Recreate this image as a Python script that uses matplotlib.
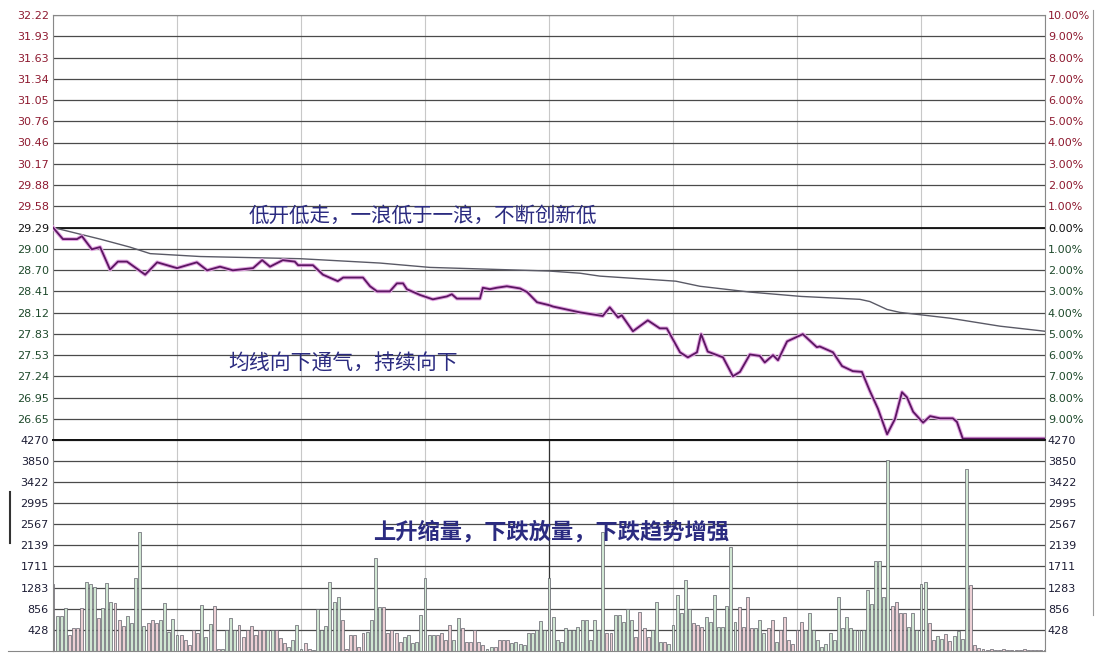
import matplotlib
matplotlib.use('Agg')
import matplotlib.pyplot as plt
import numpy as np
from matplotlib.lines import Line2D

plt.rcParams['font.family'] = ['Noto Sans CJK SC', 'DejaVu Sans']

# ---------------- data ----------------
prev_close = 29.29

price_t = [0, 2.4, 5.8, 7.0, 9.4, 11.4, 13.8, 15.7, 17.9, 22.3,
           25.2, 30.0, 34.8, 37.3, 40.4, 43.5, 48.4, 50.6, 52.5, 55.6,
           58.5, 59.3, 62.9, 65.3, 68.9, 70.2, 75.0, 76.7, 78.4, 81.5,
           83.2, 84.7, 85.6, 88.8, 91.9, 95.3, 96.5, 97.7, 103.3, 104.0,
           105.7, 107.4, 109.8, 113.0, 114.7, 117.1, 120.0, 121.0, 127.5, 133.0,
           134.7, 136.7, 137.6, 140.3, 143.9, 146.8, 148.5, 151.7, 153.6, 155.8,
           156.8, 158.4, 162.1, 164.5, 166.2, 168.6, 171.0, 172.2, 174.2, 175.4,
           177.6, 181.4, 184.8, 185.5, 188.7, 190.9, 193.5, 195.7, 197.6, 199.6,
           201.8, 203.7, 205.4, 206.6, 208.1, 210.5, 212.2, 214.6, 217.7, 218.7,
           220.1, 240]
price_v = [29.29, 29.13, 29.13, 29.17, 28.99, 29.02, 28.71, 28.82, 28.82, 28.64,
           28.81, 28.73, 28.81, 28.70, 28.75, 28.70, 28.73, 28.84, 28.75, 28.84,
           28.82, 28.77, 28.77, 28.64, 28.55, 28.60, 28.60, 28.48, 28.41, 28.41,
           28.52, 28.52, 28.44, 28.36, 28.30, 28.34, 28.37, 28.31, 28.31, 28.46,
           28.44, 28.46, 28.48, 28.45, 28.40, 28.26, 28.22, 28.20, 28.12, 28.07,
           28.19, 28.05, 28.08, 27.86, 28.01, 27.90, 27.90, 27.57, 27.50, 27.57,
           27.82, 27.58, 27.50, 27.24, 27.30, 27.54, 27.52, 27.43, 27.53, 27.46,
           27.72, 27.82, 27.64, 27.65, 27.57, 27.38, 27.31, 27.30, 27.04, 26.79,
           26.44, 26.65, 27.02, 26.95, 26.75, 26.60, 26.69, 26.66, 26.66, 26.61,
           26.38, 26.38]

avg_t = [0, 11.4, 18.6, 23.5, 35.6, 59.8, 79.1, 91.2, 120, 127.5,
         132.3, 150.7, 156.5, 168.6, 181, 195.2, 197.6, 201.8, 204.9, 217,
         229.1, 240]
avg_v = [29.29, 29.13, 29.02, 28.93, 28.89, 28.86, 28.80, 28.74, 28.69, 28.66,
         28.62, 28.55, 28.48, 28.40, 28.34, 28.30, 28.27, 28.16, 28.12, 28.04,
         27.93, 27.86]

volume = [
    1350, 700, 700, 870, 330, 460, 460, 870, 1390, 1350,
    1290, 670, 870, 1380, 990, 970, 630, 500, 700, 560,
    1480, 2410, 500, 560, 630, 560, 630, 970, 390, 650,
    330, 330, 220, 120, 430, 360, 940, 290, 550, 920,
    50, 50, 430, 670, 430, 530, 290, 430, 500, 330,
    430, 430, 430, 430, 430, 260, 160, 90, 220, 530,
    50, 160, 50, 20, 850, 430, 500, 1390, 990, 1090,
    630, 50, 330, 330, 90, 360, 390, 630, 1890,
    890, 890, 360, 430, 360, 190, 290, 330, 160, 190,
    730, 1480, 330, 330, 330, 360, 220, 530, 220, 670,
    460, 190, 190, 430, 190, 120, 50, 90, 90, 220,
    220, 220, 160, 190, 140, 120, 360, 360, 430, 600,
    430, 1480,
    690, 220, 190, 460, 420, 435, 490, 620, 620, 220,
    620, 420, 2400, 355, 355, 720, 720, 590, 840, 620,
    290, 790, 460, 290, 420, 990, 190, 190, 150, 520,
    1130, 760, 1440, 860, 560, 520, 490, 690, 590, 1130,
    490, 490, 920, 2100, 590, 890, 490, 1090, 460, 460,
    620, 355, 460, 620, 190, 420, 690, 220, 150, 420,
    590, 420, 760, 420, 220, 90, 150, 355, 220, 1090,
    460, 690, 460, 420, 420, 420, 1230, 960, 1830, 1830,
    1090, 3870, 920, 990, 760, 760, 490, 760, 420, 1360,
    1390, 560, 220,
    300, 250, 350, 200, 300, 400, 250,
    3680, 1330,
    120, 60, 40, 30, 50, 30, 20, 40, 30, 20, 30, 20, 40, 20, 30, 20, 30, 20]

pct_steps = list(range(-9, 11))
left_price_labels = ['26.65', '26.95', '27.24', '27.53', '27.83', '28.12', '28.41',
                     '28.70', '29.00', '29.29', '29.58', '29.88', '30.17', '30.46',
                     '30.76', '31.05', '31.34', '31.63', '31.93', '32.22']
right_pct_labels = ['9.00%', '8.00%', '7.00%', '6.00%', '5.00%', '4.00%', '3.00%',
                    '2.00%', '1.00%', '0.00%', '1.00%', '2.00%', '3.00%', '4.00%',
                    '5.00%', '6.00%', '7.00%', '8.00%', '9.00%', '10.00%']
vol_ticks = [428, 856, 1283, 1711, 2139, 2567, 2995, 3422, 3850, 4270]
vol_labels = ['428', '856', '1283', '1711', '2139', '2567', '2995', '3422', '3850', '4270']

note_top = '低开低走，一浪低于一浪，不断创新低'
note_mid = '均线向下通气，持续向下'
note_vol = '上升缩量，下跌放量，下跌趋势增强'

# ---------------- figure ----------------
W, H = 1100, 666
fig = plt.figure(figsize=(W / 100, H / 100), dpi=100)
fig.patch.set_facecolor('white')
axp = fig.add_axes([53 / W, 226 / H, 992 / W, 425 / H])
axv = fig.add_axes([53 / W, 15 / H, 992 / W, 211 / H], sharex=axp)

grid_c = '#4a4a4a'
up_c = '#8e1a30'
dn_c = '#1f4a2c'
txt_c = '#2b2b80'
lab_fs = 8


def style_labels(ax, colors):
    for c, lab in zip(colors, ax.get_yticklabels()):
        lab.set_color(c)
        lab.set_fontfamily('DejaVu Sans')
        lab.set_fontsize(lab_fs)


price_ticks = [prev_close * (1 + k / 100) for k in pct_steps]
price_colors = [up_c if k > 0 else (dn_c if k < 0 else '#111111') for k in pct_steps]
vol_colors = ['#1c1c34'] * len(vol_ticks)
lo, hi = prev_close * 0.9, prev_close * 1.1

for ax in (axp, axv):
    ax.set_xlim(0, 240)
    ax.set_xticks(range(0, 241, 30))
    ax.tick_params(axis='x', length=0, labelbottom=False)
    ax.xaxis.grid(True, color='#c8c8c8', lw=0.8)
    ax.yaxis.grid(True, color=grid_c, lw=0.9)
    ax.set_axisbelow(True)
    ax.tick_params(axis='y', length=0, pad=3)
    for s in ax.spines.values():
        s.set_color('#888888')
        s.set_linewidth(0.8)

# price panel
axp.set_ylim(lo, hi)
axp.set_yticks(price_ticks)
axp.set_yticklabels(left_price_labels)
style_labels(axp, price_colors)
axp.axhline(prev_close, color='#111111', lw=1.3, zorder=1)
axp.spines['bottom'].set_color('#111111')
axp.spines['bottom'].set_linewidth(1.3)

axp.plot(avg_t, avg_v, color='#5a5a66', lw=1.0, zorder=3)
axp.plot(price_t, price_v, color='#e3a8e3', lw=2.8, zorder=3, solid_joinstyle='round')
axp.plot(price_t, price_v, color='#5c1662', lw=1.3, zorder=4, solid_joinstyle='round')

axp2 = axp.twinx()
axp2.set_ylim(lo, hi)
axp2.set_yticks(price_ticks)
axp2.set_yticklabels(right_pct_labels)
axp2.tick_params(axis='y', length=0, pad=2)
style_labels(axp2, price_colors)
for s in axp2.spines.values():
    s.set_visible(False)

axp.text(47.2, 29.455, note_top, fontsize=14.8, color=txt_c, va='center', ha='left')
axp.text(42.3, 27.41, note_mid, fontsize=15, color=txt_c, va='center', ha='left')

# volume panel
minutes = np.arange(len(volume))
p_min = np.interp(minutes, price_t, price_v)
dirs = np.diff(p_min, prepend=p_min[0])
fills = ['#ecd0d5' if d >= 0 else '#d0e6d2' for d in dirs]
axv.bar(minutes, volume, width=0.7, color=fills, edgecolor='#60606a',
        linewidth=0.5, zorder=2)
axv.set_ylim(0, 4270)
axv.set_yticks(vol_ticks)
axv.set_yticklabels(vol_labels)
style_labels(axv, vol_colors)
axv.axvline(120, color='#333333', lw=0.9, zorder=1)
axv.spines['top'].set_color('#111111')
axv.spines['top'].set_linewidth(1.3)

axv2 = axv.twinx()
axv2.set_ylim(0, 4270)
axv2.set_yticks(vol_ticks)
axv2.set_yticklabels(vol_labels)
axv2.tick_params(axis='y', length=0, pad=2)
style_labels(axv2, vol_colors)
for s in axv2.spines.values():
    s.set_visible(False)

axv.text(77.4, 2412, note_vol, fontsize=16, color=txt_c, va='center',
         ha='left', fontweight='bold')

# small frame decorations
fig.add_artist(Line2D([10 / W, 10 / W], [1 - 492 / H, 1 - 543 / H], color='#333333', lw=1.5))
fig.add_artist(Line2D([1093 / W, 1093 / W], [1 - 10 / H, 1 - 615 / H], color='#9a9a9a', lw=0.8))
fig.add_artist(Line2D([8 / W, 53 / W], [15 / H, 15 / H], color='#888888', lw=0.8))

fig.savefig('out.png', dpi=100)
